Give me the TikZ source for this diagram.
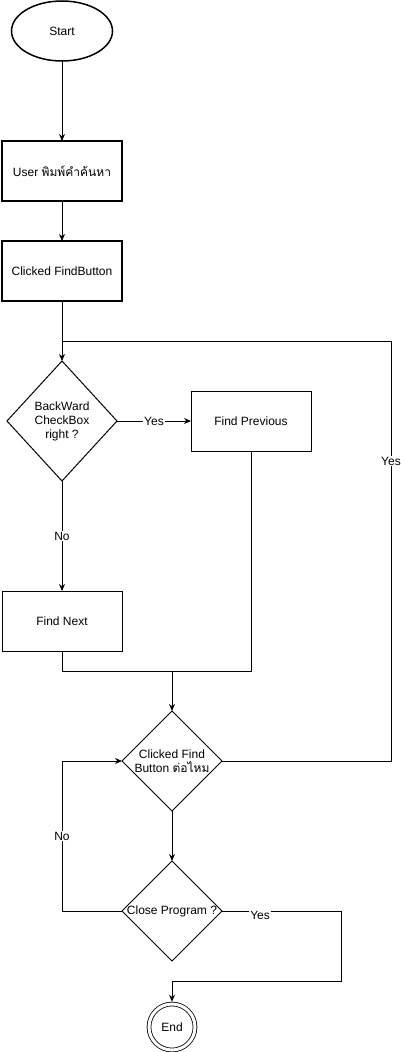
\documentclass[tikz,border=0pt]{standalone}
\usepackage{fontspec}
\setmainfont{Liberation Sans}
\newfontfamily\thaifont[Script=Thai]{Loma}
\usetikzlibrary{shapes.geometric,arrows.meta}

\tikzset{
  every node/.style={font=\fontsize{12}{14}\selectfont},
  box/.style={rectangle, draw, line width=1pt, minimum width=120pt, minimum height=60pt, outer sep=0pt},
  thickbox/.style={box, line width=2pt},
  decision/.style={diamond, draw, line width=1pt, inner sep=0pt, outer sep=0pt},
  lbl/.style={fill=white, inner sep=1pt},
  arrow/.style={-{Stealth[length=7pt,width=6pt]}, line width=1pt},
  link/.style={line width=1pt}
}

\begin{document}
\begin{tikzpicture}[x=1pt, y=-1pt]
    \useasboundingbox (0,0) rectangle (400,1052);

    % Définition des nœuds
    \node[ellipse, draw, line width=1.5pt, minimum width=101pt, minimum height=60pt, outer sep=0pt] (start) at (62,31) {Start};
    \node[thickbox] (user) at (62,171) {User {\thaifont พิมพ์คำค้นหา}};
    \node[thickbox] (clicked) at (62,271) {Clicked FindButton};
    \node[decision, minimum width=110pt, minimum height=120pt,
          label={[align=center]center:BackWard\\CheckBox\\right ?}] (backward) at (62,421) {};
    \node[box] (prev) at (251,421) {Find Previous};
    \node[box] (next) at (62,621) {Find Next};
    \node[decision, minimum width=100pt, minimum height=100pt,
          label={[align=center]center:Clicked Find\\Button {\thaifont ต่อไหม}}] (again) at (172,761) {};
    \node[decision, minimum width=100pt, minimum height=100pt,
          label=center:{Close Program ?}] (close) at (172,911) {};
    \node[circle, draw, double, double distance=3pt, line width=0.8pt, minimum size=46pt, outer sep=2.3pt] (end) at (172,1027) {End};

    % Points de passage
    \coordinate (merge) at (172,671);
    \coordinate (loopr) at (391,341);
    \coordinate (loopl) at (62,341);
    \coordinate (noturn) at (62,911);
    \coordinate (yesturn) at (341,981);

    % Flèches principales
    \draw[arrow] (start) -- (user);
    \draw[arrow] (user) -- (clicked);
    \draw[arrow] (clicked) -- (backward);
    \draw[arrow] (backward) -- node[lbl]{Yes} (prev);
    \draw[arrow] (backward) -- node[lbl]{No} (next);

    % Retour vers la décision suivante
    \draw[link] (next.south) |- (merge);
    \draw[link] (prev.south) |- (merge);
    \draw[arrow] (merge) -- (again);
    \draw[arrow] (again) -- (close);

    % Boucles
    \draw[link] (again.east) -| node[lbl, pos=0.857]{Yes} (loopr) -- (loopl);
    \draw[arrow] (close.west) -- (noturn) |- node[lbl, pos=0.25]{No} (again.west);
    \draw[arrow] (close.east) -| node[lbl, pos=0.16, yshift=-4pt]{Yes} (yesturn) -| (end);

\end{tikzpicture}
\end{document}
